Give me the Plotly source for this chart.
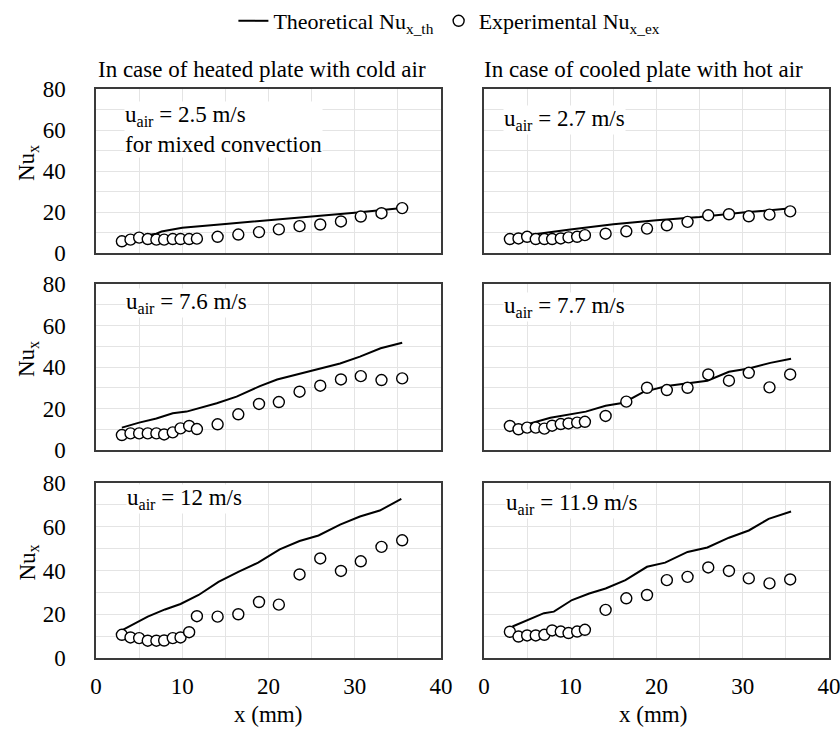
import plotly.graph_objects as go

# ---------------- data ----------------
x_ex = [3.0, 4.0, 5.0, 6.0, 7.0, 7.9, 8.9, 9.8, 10.8, 11.7,
        14.1, 16.5, 18.9, 21.2, 23.6, 26.0, 28.4, 30.7, 33.1, 35.5]

# heated plate with cold air (left column)
ex_h25 = [5.7, 6.5, 7.5, 6.8, 6.5, 6.5, 6.8, 6.8, 6.8, 7.0,
          7.9, 9.0, 10.2, 11.5, 13.1, 13.9, 15.4, 17.8, 19.4, 21.9]
ex_h76 = [7.2, 8.0, 8.0, 8.0, 8.0, 7.5, 8.5, 10.4, 11.6, 10.1,
          12.4, 17.2, 22.2, 23.1, 28.1, 31.0, 34.0, 35.6, 33.7, 34.5]
ex_h12 = [10.6, 9.4, 9.1, 7.9, 7.9, 8.0, 9.1, 9.4, 11.8, 19.1,
          18.9, 20.0, 25.6, 24.4, 38.2, 45.5, 39.8, 44.2, 50.8, 53.8]

# cooled plate with hot air (right column)
ex_c27 = [6.8, 7.1, 7.9, 6.8, 6.8, 6.8, 7.1, 7.6, 7.9, 8.7,
          9.4, 10.6, 11.9, 13.5, 15.2, 18.4, 18.9, 17.9, 18.7, 20.3]
ex_c77 = [11.6, 10.0, 10.8, 10.8, 10.3, 11.7, 12.5, 12.8, 13.2, 13.6,
          16.4, 23.3, 30.0, 28.9, 30.0, 36.4, 33.4, 37.2, 30.2, 36.4]
ex_c119 = [12.0, 9.8, 10.3, 10.3, 10.6, 12.6, 12.1, 11.4, 12.1, 12.9,
           22.0, 27.3, 28.8, 35.6, 37.1, 41.4, 39.8, 36.4, 34.1, 35.9]

# theoretical curves
xt_h25 = [3.0, 5.0, 7.0, 7.6, 10.0, 15.0, 20.0, 25.0, 30.0, 35.5]
yt_h25 = [6.8, 8.0, 9.4, 10.5, 12.3, 14.2, 15.9, 17.6, 19.6, 21.9]
xt_h76 = [3.0, 5.0, 7.0, 8.9, 10.5, 14.0, 16.3, 19.0, 21.0, 23.5, 25.8, 28.3, 30.6, 33.0, 35.5]
yt_h76 = [10.8, 13.2, 15.2, 17.7, 18.5, 22.5, 25.7, 30.8, 34.0, 36.6, 38.8, 41.7, 45.0, 49.0, 51.7]
xt_h12 = [3.1, 6.0, 8.0, 9.8, 11.9, 14.2, 16.5, 18.8, 21.3, 23.6, 25.8, 28.3, 30.6, 32.9, 35.4]
yt_h12 = [12.9, 18.9, 22.2, 24.7, 28.8, 34.8, 39.4, 43.6, 49.7, 53.5, 56.0, 61.0, 64.7, 67.4, 72.7]

xt_c27 = [3.1, 5.0, 10.0, 15.0, 20.0, 25.0, 30.0, 35.6]
yt_c27 = [7.4, 8.7, 11.5, 14.0, 16.0, 17.6, 19.7, 21.8]
xt_c77 = [3.3, 5.1, 7.7, 11.8, 14.1, 16.2, 18.5, 21.2, 23.5, 25.9, 28.4, 30.7, 33.2, 35.6]
yt_c77 = [10.4, 12.4, 15.5, 18.5, 21.3, 22.8, 28.0, 30.8, 32.0, 33.4, 37.7, 39.3, 42.0, 44.0]
xt_c119 = [3.3, 5.0, 6.95, 8.1, 10.2, 12.2, 14.1, 16.4, 18.9, 21.0, 23.6, 25.9, 28.4, 30.7, 33.0, 35.6]
yt_c119 = [14.4, 17.1, 20.5, 21.2, 26.5, 29.5, 31.8, 35.6, 41.7, 43.6, 48.5, 50.5, 55.0, 58.3, 63.6, 67.0]

speed_labels = ["u<sub>air</sub> = 2.5 m/s<br>for mixed convection", "u<sub>air</sub> = 2.7 m/s",
                "u<sub>air</sub> = 7.6 m/s", "u<sub>air</sub> = 7.7 m/s",
                "u<sub>air</sub> = 12 m/s", "u<sub>air</sub> = 11.9 m/s"]
col_titles = ["In case of heated plate with cold air", "In case of cooled plate with hot air"]
x_ticks = [0, 10, 20, 30, 40]
y_ticks = [0, 20, 40, 60, 80]

# ---------------- figure ----------------
W, H = 840, 729
FONT = "Liberation Serif, Times New Roman, serif"
FS = 23

panels = [
    (0, 0, xt_h25, yt_h25, ex_h25),
    (0, 1, xt_c27, yt_c27, ex_c27),
    (1, 0, xt_h76, yt_h76, ex_h76),
    (1, 1, xt_c77, yt_c77, ex_c77),
    (2, 0, xt_h12, yt_h12, ex_h12),
    (2, 1, xt_c119, yt_c119, ex_c119),
]
xdom = {0: [96 / W, 441 / W], 1: [484 / W, 829 / W]}
ytop = {0: 89, 1: 284, 2: 483}
ybot = {0: 253, 1: 450, 2: 658}

fig = go.Figure()
layout = {}
for i, (r, c, xt, yt, ye) in enumerate(panels):
    n = i + 1
    xa = "x" if n == 1 else f"x{n}"
    ya = "y" if n == 1 else f"y{n}"
    fig.add_trace(go.Scatter(x=xt, y=yt, mode="lines", xaxis=xa, yaxis=ya,
                             line=dict(color="black", width=2),
                             name="Theoretical Nu<sub>x_th</sub>", showlegend=(n == 1)))
    fig.add_trace(go.Scatter(x=x_ex, y=ye, mode="markers", xaxis=xa, yaxis=ya,
                             marker=dict(symbol="circle", size=11, color="white",
                                         line=dict(color="black", width=1.4)),
                             name="Experimental Nu<sub>x_ex</sub>", showlegend=(n == 1)))
    xkey = "xaxis" if n == 1 else f"xaxis{n}"
    ykey = "yaxis" if n == 1 else f"yaxis{n}"
    layout[xkey] = dict(domain=xdom[c], anchor=ya, range=[0, 40], tickvals=x_ticks,
                        showgrid=True, gridcolor="#e4e4e4", gridwidth=1, automargin=False,
                        minor=dict(dtick=5, showgrid=True, gridcolor="#e4e4e4", gridwidth=1),
                        showline=True, mirror=True, linecolor="#3a3a3a", linewidth=1.5,
                        zeroline=False, ticks="", showticklabels=(r == 2),
                        ticklabeloverflow="allow",
                        ticklabelstandoff=7, tickfont=dict(size=FS, family=FONT, color="black"))
    layout[ykey] = dict(domain=[1 - ybot[r] / H, 1 - ytop[r] / H], anchor=xa, range=[0, 80],
                        tickvals=y_ticks, showgrid=True, gridcolor="#e4e4e4", gridwidth=1,
                        automargin=False,
                        minor=dict(dtick=10, showgrid=True, gridcolor="#e4e4e4", gridwidth=1),
                        showline=True, mirror=True, linecolor="#3a3a3a", linewidth=1.5,
                        zeroline=False, ticks="", showticklabels=(c == 0),
                        ticklabeloverflow="allow",
                        ticklabelstandoff=24, tickfont=dict(size=FS, family=FONT, color="black"))

fig.update_layout(**layout)

annotations = []
# speed labels inside panels
ann_pos = [(124, 101), (503, 105), (125, 288), (503, 292), (126, 484), (505, 489)]
for i, (px, py) in enumerate(ann_pos):
    annotations.append(dict(x=px / W, y=1 - py / H, xref="paper", yref="paper",
                            xanchor="left", yanchor="top", align="left", showarrow=False,
                            text=speed_labels[i], bgcolor="white", borderpad=0,
                            font=dict(size=FS, family=FONT, color="black")))
# column titles
for c, px in enumerate([96, 482]):
    annotations.append(dict(x=px / W, y=1 - 70 / H, xref="paper", yref="paper",
                            xanchor="left", yanchor="middle", showarrow=False,
                            text=col_titles[c], font=dict(size=FS, family=FONT, color="black")))
# y titles
for r in range(3):
    yc = (ytop[r] + ybot[r]) / 2 - 8
    annotations.append(dict(x=28 / W, y=1 - yc / H, xref="paper", yref="paper",
                            xanchor="center", yanchor="middle", showarrow=False, textangle=-90,
                            text="Nu<sub>x</sub>", font=dict(size=FS, family=FONT, color="black")))
# x titles
for c, px in enumerate([268, 653]):
    annotations.append(dict(x=px / W, y=1 - 714 / H, xref="paper", yref="paper",
                            xanchor="center", yanchor="middle", showarrow=False,
                            text="x (mm)", font=dict(size=FS, family=FONT, color="black")))

fig.update_layout(
    width=W, height=H,
    margin=dict(l=0, r=0, t=0, b=0, autoexpand=False),
    paper_bgcolor="white", plot_bgcolor="white",
    font=dict(family=FONT, color="black", size=FS),
    annotations=annotations,
    legend=dict(orientation="h", x=0.535, xanchor="center", y=1.0, yanchor="top",
                font=dict(size=22, family=FONT, color="black"), bgcolor="rgba(0,0,0,0)",
                itemwidth=30, tracegroupgap=0),
)

fig.write_html("out.html", config={"displayModeBar": False},
               post_script="document.body.style.margin='0px';document.body.style.overflow='hidden';")
